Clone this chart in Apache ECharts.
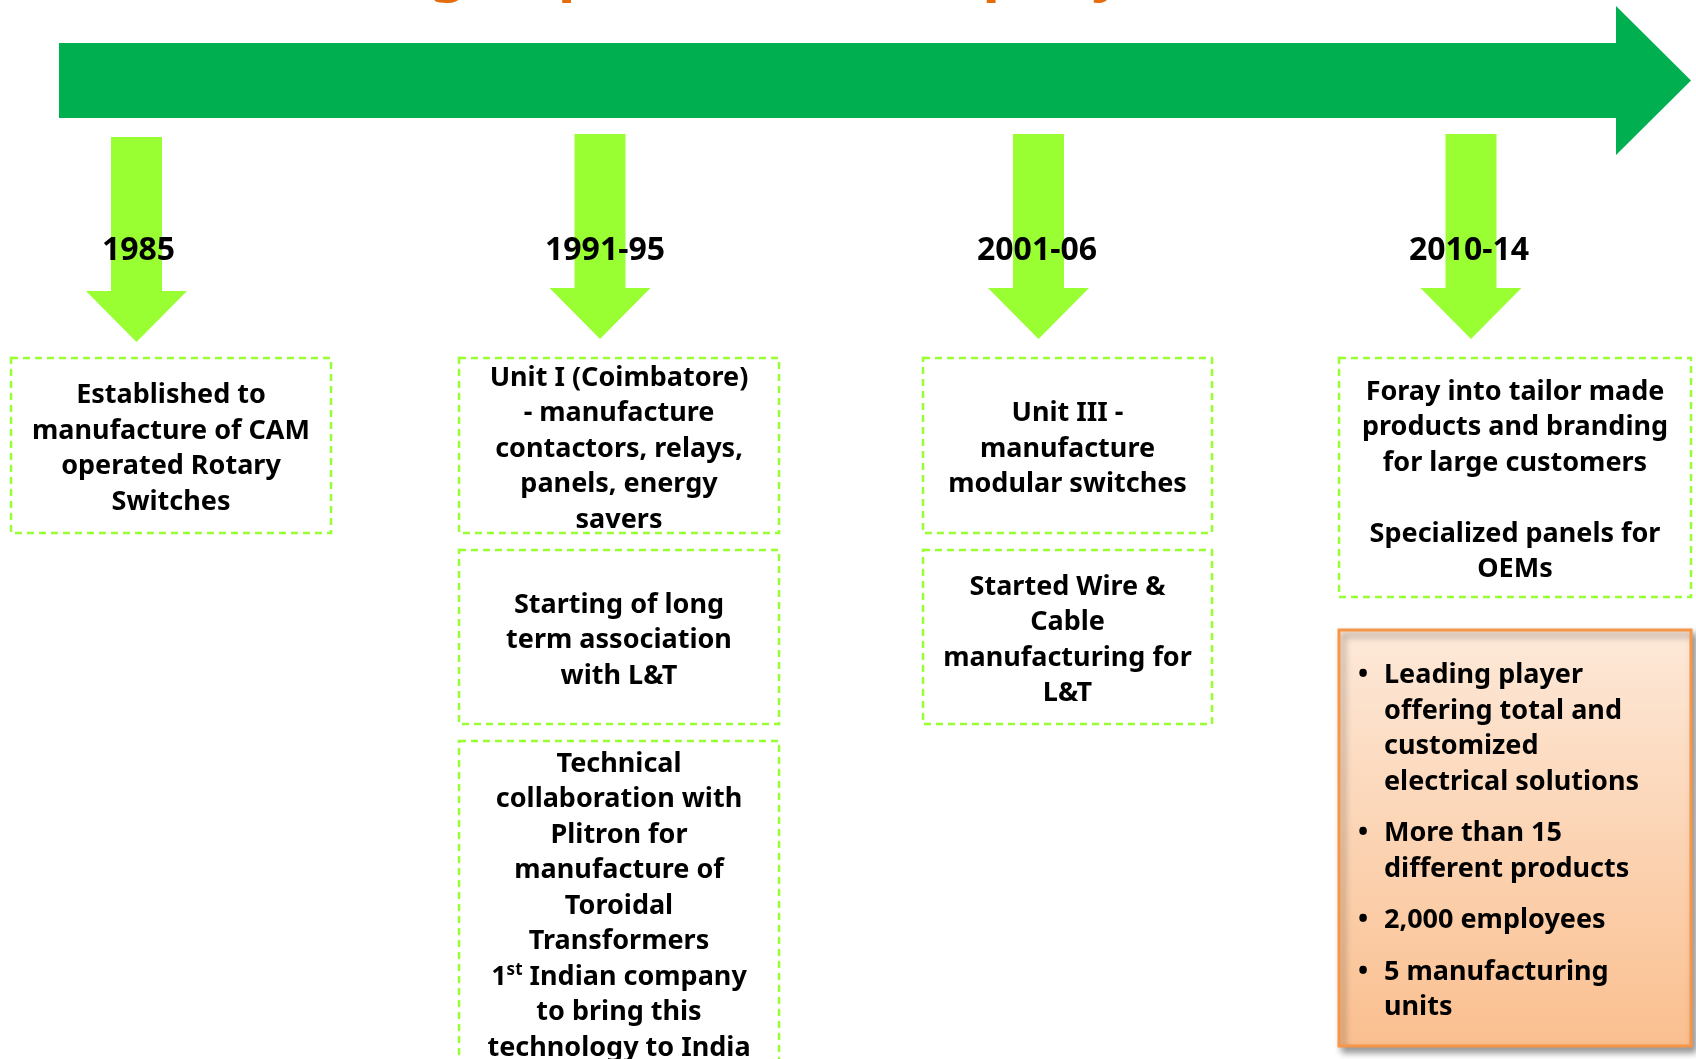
<!DOCTYPE html>
<html>
<head>
<meta charset="utf-8">
<script src="https://cdn.jsdelivr.net/npm/echarts@6/dist/echarts.min.js"></script>
<style>
html,body{margin:0;padding:0;background:#fff;}
#chart{width:1696px;height:1059px;}
</style>
</head>
<body>
<div id="chart"></div>
<script>
// ---- content ----
const title = 'A glimpse of the company';
const years = ['1985', '1991-95', '2001-06', '2010-14'];
const events1985 = ['Established to\nmanufacture of CAM\noperated Rotary\nSwitches'];
const events1991 = [
  'Unit I (Coimbatore)\n- manufacture\ncontactors, relays,\npanels, energy\nsavers',
  'Starting of long\nterm association\nwith L&T',
  'Technical\ncollaboration with\nPlitron for\nmanufacture of\nToroidal\nTransformers\n1{sup|st}{n| Indian company}\nto bring this\ntechnology to India'
];
const events2001 = ['Unit III -\nmanufacture\nmodular switches', 'Started Wire &\nCable\nmanufacturing for\nL&T'];
const events2010 = ['Foray into tailor made\nproducts and branding\nfor large customers\n\nSpecialized panels for\nOEMs'];
const highlights = [
  'Leading player\noffering total and\ncustomized\nelectrical solutions',
  'More than 15\ndifferent products',
  '2,000 employees',
  '5 manufacturing\nunits'
];
const eventsByYear = [events1985, events1991, events2001, events2010];

// ---- layout (positions / sizes, kept apart from the content) ----
const arrowLayout = [
  {cx: 136.5, top: 137, labelX: 138.5}, {cx: 600, top: 134, labelX: 605}, {cx: 1038.5, top: 134, labelX: 1037}, {cx: 1471, top: 134, labelX: 1469}
];
const boxLayout = [
  [{x0: 11, x1: 331, y0: 358, y1: 533}],
  [{x0: 459, x1: 779, y0: 358, y1: 533}, {x0: 459, x1: 779, y0: 550, y1: 724}, {x0: 459, x1: 779, y0: 741, y1: 1064}],
  [{x0: 923, x1: 1212, y0: 358, y1: 533}, {x0: 923, x1: 1212, y0: 550, y1: 724}],
  [{x0: 1339, x1: 1691, y0: 358, y1: 597}]
];
const highlightBox = {x0: 1339, x1: 1691, y0: 630, y1: 1046, bulletX: 1363, textX: 1384, firstY: 675.5, gap: 16};
const LH = 35.5;
const TEXT_DY = 3.5;
const YEAR_Y = 250.5;
const TITLE_Y = -28;
const FONT = 'bold 27px "Noto Sans"';
const YEAR_FONT = 'bold 32px "Noto Sans"';
const LIGHT = '#99FF33';
const DARK = '#00B050';

const chart = echarts.init(document.getElementById('chart'), null, {renderer: 'canvas'});

function pt(api, x, y) { return api.coord([x, y]); }

function textEl(api, s, x, y, align) {
  const p = pt(api, x, y);
  const hasRich = s.indexOf('{sup|') >= 0;
  const style = {text: s, x: p[0], y: p[1], fill: '#000', font: FONT, align: align || 'center', verticalAlign: 'middle'};
  if (hasRich) {
    style.rich = {
      n: {font: FONT, fill: '#000', lineHeight: 30},
      sup: {font: 'bold 17px "Noto Sans"', fill: '#000', verticalAlign: 'top', lineHeight: 30, padding: [0, 0, 12, 0]}
    };
    style.lineHeight = 30;
  }
  return {type: 'text', style: style};
}

function renderTimeline(params, api) {
  const P = [[59, 43], [1616, 43], [1616, 6], [1691, 80.5], [1616, 155], [1616, 118], [59, 118]].map(a => pt(api, a[0], a[1]));
  return {type: 'polygon', shape: {points: P}, style: {fill: DARK}};
}

function renderTitle(params, api) {
  const p = pt(api, 375, TITLE_Y);
  return {type: 'text', style: {text: title, x: p[0], y: p[1], fill: '#E46C0A', font: 'bold 58px "Noto Sans"', align: 'left', verticalAlign: 'middle'}};
}

function renderColumn(params, api) {
  const i = api.value(0);
  const a = arrowLayout[i];
  const sw = 25.5, hw = 50.5, stemLen = 154, headLen = 51;
  const hy = a.top + stemLen;
  const pts = [[a.cx - sw, a.top], [a.cx + sw, a.top], [a.cx + sw, hy], [a.cx + hw, hy], [a.cx, hy + headLen], [a.cx - hw, hy], [a.cx - sw, hy]]
    .map(q => pt(api, q[0], q[1]));
  const children = [{type: 'polygon', shape: {points: pts}, style: {fill: LIGHT}}];
  const yp = pt(api, a.labelX, YEAR_Y);
  children.push({type: 'text', style: {text: years[i], x: yp[0], y: yp[1], fill: '#000', font: YEAR_FONT, align: 'center', verticalAlign: 'middle'}});
  const evs = eventsByYear[i];
  evs.forEach((txt, k) => {
    const b = boxLayout[i][k];
    const p0 = pt(api, b.x0, b.y0), p1 = pt(api, b.x1, b.y1);
    children.push({type: 'rect', shape: {x: p0[0], y: p0[1], width: p1[0] - p0[0], height: p1[1] - p0[1]},
      style: {fill: 'none', stroke: LIGHT, lineWidth: 2.5, lineDash: [7, 5]}});
    const lines = txt.split('\n');
    const c = (b.y0 + b.y1) / 2 + TEXT_DY, cx = (b.x0 + b.x1) / 2;
    lines.forEach((ln, j) => {
      if (!ln) return;
      children.push(textEl(api, ln, cx, c + (j - (lines.length - 1) / 2) * LH, 'center'));
    });
  });
  return {type: 'group', children: children};
}

function renderHighlights(params, api) {
  const b = highlightBox;
  const p0 = pt(api, b.x0, b.y0), p1 = pt(api, b.x1, b.y1);
  const children = [{type: 'rect', shape: {x: p0[0], y: p0[1], width: p1[0] - p0[0], height: p1[1] - p0[1]},
    style: {fill: new echarts.graphic.LinearGradient(0, 0, 0, 1, [{offset: 0, color: '#FDE9D9'}, {offset: 1, color: '#FABF8F'}]),
      stroke: '#F79646', lineWidth: 3, shadowBlur: 7, shadowColor: 'rgba(0,0,0,0.4)', shadowOffsetX: 4, shadowOffsetY: 5}}];
  let y = b.firstY;
  highlights.forEach((h, k) => {
    const lines = h.split('\n');
    children.push(textEl(api, '•', b.bulletX, y, 'center'));
    lines.forEach((ln, j) => {
      children.push(textEl(api, ln, b.textX, y, 'left'));
      y += LH;
    });
    y += b.gap;
  });
  return {type: 'group', children: children};
}

chart.setOption({
  animation: false,
  backgroundColor: '#ffffff',
  grid: {left: 0, right: 0, top: 0, bottom: 0},
  xAxis: {type: 'value', min: 0, max: 1696, show: false},
  yAxis: {type: 'value', min: 0, max: 1059, inverse: true, show: false},
  series: [
    {type: 'custom', name: 'title', data: [[0]], renderItem: renderTitle, clip: false, silent: true},
    {type: 'custom', name: 'timeline', data: [[0]], renderItem: renderTimeline, clip: false, silent: true},
    {type: 'custom', name: 'milestones', data: years.map((y, i) => [i]), renderItem: renderColumn, clip: false, silent: true},
    {type: 'custom', name: 'highlights', data: [[0]], renderItem: renderHighlights, clip: false, silent: true}
  ]
});
</script>
</body>
</html>
